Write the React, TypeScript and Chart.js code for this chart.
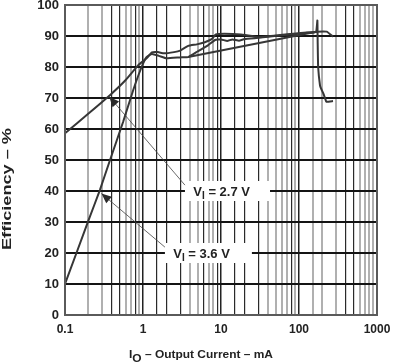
import React, { useEffect, useRef } from "react";
import { Chart, registerables } from "chart.js";

Chart.register(...registerables);

// ---- Data ----
const currentVI27 = [0.1, 0.2, 0.38, 0.6, 0.87, 1.11, 1.3, 1.55, 1.86, 2.5, 3.0, 3.8, 4.9, 6.2, 7.6, 8.6, 11, 18, 25, 30, 50, 100, 170, 226, 273];
const efficiencyVI27 = [58.6, 65, 71, 75.8, 80.6, 82.8, 84.7, 84.8, 84.4, 84.8, 85.3, 86.8, 87.3, 88, 89, 90.5, 90.7, 90.5, 90, 89.6, 90.2, 90.9, 91.4, 91.4, 89.8];

const currentVI36 = [0.1, 0.2, 0.28, 0.378, 0.558, 0.75, 0.96, 1.11, 1.3, 1.6, 2, 3, 3.8, 5, 6.8, 8.4, 10, 12, 14, 17, 20, 30, 60, 120, 165, 172, 173.5, 176, 186, 192, 205, 218, 224, 273];
const efficiencyVI36 = [10, 30.5, 40.3, 50, 62.4, 72.6, 80, 83.2, 84.2, 83.6, 82.8, 83.1, 83.2, 85, 87, 88.7, 88.9, 88.4, 88.9, 88.5, 89, 89.4, 90.2, 91, 91.3, 95, 88, 80, 74, 73, 71.5, 69.6, 68.8, 69];

const currentVI36Segment = [3.8, 160];
const efficiencyVI36Segment = [83.2, 91.3];

const xTickValues = [0.1, 1, 10, 100, 1000];
const xTickLabels = ["0.1", "1", "10", "100", "1000"];
const yTickValues = [0, 10, 20, 30, 40, 50, 60, 70, 80, 90, 100];

const seriesLabels = ["2.7 V", "3.6 V"];
const xTitleMain = " \u2013 Output Current \u2013 mA";
const yTitle = "Efficiency \u2013 %";

// annotation anchors in data coordinates
const annotations = [
  { text: seriesLabels[0], tipX: 0.37, tipY: 70.4, tailX: 3.45, tailY: 41.9, boxFrom: 3.45, boxTo: 42.5, level: 40, textX: 4.42 },
  { text: seriesLabels[1], tipX: 0.293, tipY: 39.2, tailX: 1.91, tailY: 21.9, boxFrom: 1.91, boxTo: 24.9, level: 20, textX: 2.44 },
];

const FONT = "'Liberation Sans', Arial, Helvetica, sans-serif";
const LINE_COLOR = "#363636";

function toPoints(xs: number[], ys: number[]) {
  return xs.map((x, i) => ({ x, y: ys[i] }));
}

const darkMinors: Record<number, number[]> = {
  [-1]: [4, 5, 8],
  0: [2, 3, 6, 9],
  1: [2, 3, 8],
  2: [4, 5],
};

function minorInfo(v: number) {
  const exp = Math.floor(Math.log10(v) + 1e-9);
  const m = Math.round(v / Math.pow(10, exp));
  if (m === 1 || m === 10) return { color: "#222", width: 1.5 };
  const dark = (darkMinors[exp] || []).includes(m);
  return dark ? { color: "#2a2a2a", width: 1.2 } : { color: "#b0b0b0", width: 2 };
}

function drawParts(
  ctx: CanvasRenderingContext2D,
  parts: { t: string; font: string; dy: number }[],
  x: number,
  baseline: number,
  targetWidth?: number
) {
  let total = 0;
  const widths = parts.map((p) => {
    ctx.font = p.font;
    const w = ctx.measureText(p.t).width;
    total += w;
    return w;
  });
  const s = targetWidth ? targetWidth / total : 1;
  ctx.save();
  ctx.translate(x, baseline);
  ctx.scale(s, 1);
  let cx = 0;
  parts.forEach((p, i) => {
    ctx.font = p.font;
    ctx.fillText(p.t, cx, p.dy);
    cx += widths[i];
  });
  ctx.restore();
}

const overlayPlugin = {
  id: "overlay",
  afterDatasetsDraw(chart: any) {
    const { ctx, chartArea, scales } = chart;
    const xs = scales.x;
    const ys = scales.y;
    ctx.save();
    // frame
    ctx.strokeStyle = "#5a5a5a";
    ctx.lineWidth = 2;
    ctx.strokeRect(chartArea.left, chartArea.top, chartArea.right - chartArea.left, chartArea.bottom - chartArea.top);

    for (const a of annotations) {
      const bx0 = xs.getPixelForValue(a.boxFrom);
      const bx1 = xs.getPixelForValue(a.boxTo);
      const cy = ys.getPixelForValue(a.level);
      ctx.fillStyle = "#ffffff";
      ctx.fillRect(bx0, cy - 10, bx1 - bx0, 20);

      const tx = xs.getPixelForValue(a.tipX);
      const ty = ys.getPixelForValue(a.tipY);
      const sx = xs.getPixelForValue(a.tailX);
      const sy = ys.getPixelForValue(a.tailY);
      ctx.strokeStyle = "#444";
      ctx.lineWidth = 0.8;
      ctx.beginPath();
      ctx.moveTo(sx, sy);
      ctx.lineTo(tx, ty);
      ctx.stroke();
      const ang = Math.atan2(ty - sy, tx - sx);
      const L = 10;
      const W = 4.3;
      const bxp = tx - L * Math.cos(ang);
      const byp = ty - L * Math.sin(ang);
      ctx.fillStyle = "#2a2a2a";
      ctx.beginPath();
      ctx.moveTo(tx, ty);
      ctx.lineTo(bxp - W * Math.sin(ang), byp + W * Math.cos(ang));
      ctx.lineTo(bxp + W * Math.sin(ang), byp - W * Math.cos(ang));
      ctx.closePath();
      ctx.fill();

      ctx.fillStyle = "#222";
      ctx.textBaseline = "alphabetic";
      drawParts(
        ctx,
        [
          { t: "V", font: `bold 13px ${FONT}`, dy: 0 },
          { t: "I", font: `bold 10px ${FONT}`, dy: 3.5 },
          { t: " = " + a.text, font: `bold 13px ${FONT}`, dy: 0 },
        ],
        xs.getPixelForValue(a.textX),
        cy + 4.5
      );
    }
    ctx.restore();
  },
  afterDraw(chart: any) {
    const { ctx } = chart;
    ctx.save();
    ctx.fillStyle = "#222";
    ctx.textBaseline = "alphabetic";
    // x title
    drawParts(
      ctx,
      [
        { t: "I", font: `bold 11px ${FONT}`, dy: 0 },
        { t: "O", font: `bold 11px ${FONT}`, dy: 4 },
        { t: xTitleMain, font: `bold 11px ${FONT}`, dy: 0 },
      ],
      129,
      357.5,
      144
    );
    // y title
    ctx.save();
    ctx.translate(11, 250);
    ctx.rotate(-Math.PI / 2);
    drawParts(ctx, [{ t: yTitle, font: `bold 13px ${FONT}`, dy: 0 }], 0, 0, 122);
    ctx.restore();
    ctx.restore();
  },
};

export default function App() {
  const ref = useRef<HTMLCanvasElement | null>(null);

  useEffect(() => {
    document.body.style.margin = "0";
    if (!ref.current) return;
    Chart.defaults.font.family = FONT;
    const chart = new Chart(ref.current, {
      type: "line",
      data: {
        datasets: [
          {
            label: seriesLabels[0],
            data: toPoints(currentVI27, efficiencyVI27),
            borderColor: LINE_COLOR,
            borderWidth: 2,
            pointRadius: 0,
            tension: 0.15,
          },
          {
            label: seriesLabels[1],
            data: toPoints(currentVI36, efficiencyVI36),
            borderColor: LINE_COLOR,
            borderWidth: 2,
            pointRadius: 0,
            tension: 0.1,
          },
          {
            label: seriesLabels[1] + " segment",
            data: toPoints(currentVI36Segment, efficiencyVI36Segment),
            borderColor: LINE_COLOR,
            borderWidth: 2,
            pointRadius: 0,
          },
        ],
      },
      options: {
        animation: false,
        responsive: false,
        layout: { padding: { top: 5, right: 29, left: 0, bottom: 0 } },
        plugins: { legend: { display: false }, tooltip: { enabled: false } },
        scales: {
          x: {
            type: "logarithmic",
            min: 0.1,
            max: 1000,
            afterFit: (s: any) => {
              s.height = 49;
              s.paddingLeft = 0;
              s.paddingRight = 0;
            },
            border: { display: false },
            grid: {
              drawTicks: false,
              color: (c: any) => minorInfo(c.tick.value).color,
              lineWidth: (c: any) => minorInfo(c.tick.value).width,
            },
            ticks: {
              autoSkip: false,
              maxRotation: 0,
              padding: 7,
              color: "#222",
              font: { size: 12, weight: "bold" },
              callback: (v: any) => {
                const i = xTickValues.findIndex((t) => Math.abs(t - Number(v)) / t < 1e-6);
                return i >= 0 ? xTickLabels[i] : "";
              },
            },
          },
          y: {
            min: 0,
            max: 100,
            afterFit: (s: any) => {
              s.width = 65;
              s.paddingTop = 0;
              s.paddingBottom = 0;
            },
            afterBuildTicks: (s: any) => {
              s.ticks = yTickValues.map((v) => ({ value: v }));
            },
            border: { display: false },
            grid: { drawTicks: false, color: "#141414", lineWidth: 2 },
            ticks: {
              padding: 6,
              color: "#222",
              font: { size: 13, weight: "bold" },
              callback: (v: any) => String(v),
            },
          },
        },
      },
      plugins: [overlayPlugin],
    } as any);
    return () => chart.destroy();
  }, []);

  return (
    <div style={{ width: 406, height: 364, position: "relative", background: "#fff" }}>
      <canvas ref={ref} width={406} height={364} style={{ display: "block" }} />
    </div>
  );
}
